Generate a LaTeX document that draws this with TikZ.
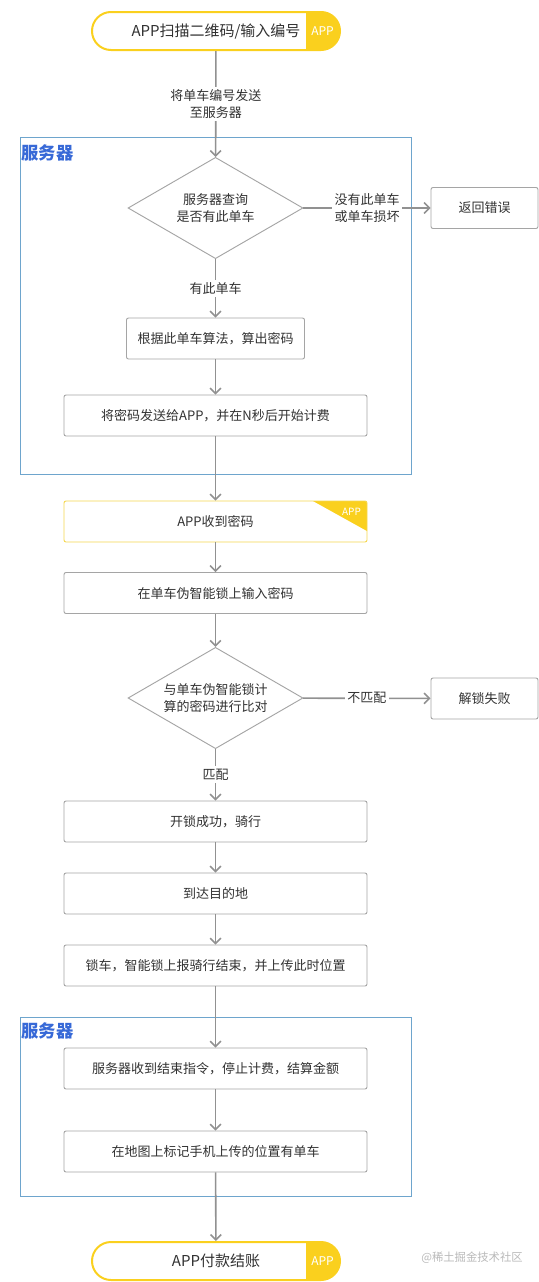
\documentclass[tikz,border=0pt]{standalone}
\usepackage{fontspec}
\setmainfont{Noto Sans CJK SC}
\usetikzlibrary{arrows.meta,shapes.geometric}
\definecolor{appyellow}{RGB}{250,208,30}
\definecolor{lightyellow}{RGB}{245,215,80}
\definecolor{linegray}{RGB}{145,145,145}
\definecolor{boxgray}{RGB}{165,165,165}
\definecolor{frameblue}{RGB}{110,165,205}
\definecolor{labelblue}{RGB}{55,105,215}
\definecolor{textgray}{RGB}{50,50,50}
\definecolor{markgray}{RGB}{185,185,185}

\begin{document}
\begin{tikzpicture}[x=0.75pt,y=-0.75pt,
	font=\fontsize{9.75}{13}\selectfont, text=textgray,
	stepbox/.style={draw=boxgray,line width=0.7pt,rounded corners=1.5pt,minimum height=30.75pt,inner sep=0pt,fill=white},
	widebox/.style={stepbox,minimum width=227.25pt},
	check/.style={diamond,aspect=1.75,draw=boxgray,line width=0.7pt,minimum width=131.25pt,minimum height=76pt,inner sep=0pt,align=center,fill=white},
	pill/.style={draw=appyellow,line width=1.5pt,rounded corners=14.25pt,minimum width=186pt,minimum height=28.5pt,inner sep=0pt,fill=white,
		font=\fontsize{11.25}{13}\selectfont,
		path picture={\fill[appyellow,sharp corners] ([xshift=-25.5pt]path picture bounding box.north east) rectangle (path picture bounding box.south east);}},
	apptag/.style={text=white,font=\fontsize{9}{10}\selectfont,inner sep=0pt},
	flow/.style={draw=linegray,line width=1.2pt,-{Straight Barb[length=4pt,width=8pt]}},
	tag/.style={fill=white,align=center,inner sep=2pt},
	frame/.style={draw=frameblue,line width=0.75pt},
	group/.style={font=\fontsize{13}{15}\selectfont\bfseries,text=labelblue,anchor=west,inner sep=1pt}
	]
	\useasboundingbox (0,0) rectangle (539,1282);
	
	%%%%% START %%%%%
	
	% server frames
	\draw[frame] (20,137) rectangle (411,474);
	\node[group] (server1) at (20,153) {服务器};
	\draw[frame] (20,1017) rectangle (411,1196);
	\node[group] (server2) at (20,1031) {服务器};
	
	% nodes
	\node[pill] (start) at (216,31) {APP扫描二维码/输入编号};
	\node[apptag] (startapp) at (322.5,31) {APP};
	
	\node[check] (query) at (215.5,208) {服务器查询\\是否有此单车};
	\node[stepbox,minimum width=80.25pt] (error) at (484.5,208) {返回错误};
	\node[stepbox,minimum width=133.5pt] (algo) at (215.5,338.5) {根据此单车算法，算出密码};
	\node[widebox] (send) at (215.5,415.5) {将密码发送给APP，并在N秒后开始计费};
	
	\node[widebox,draw=lightyellow,
		path picture={\fill[appyellow,sharp corners] ([xshift=-40.5pt]path picture bounding box.north east) -- (path picture bounding box.north east) -- ([yshift=-22.5pt]path picture bounding box.north east) -- cycle;}]
		(receive) at (215.5,521.5) {APP收到密码};
	\node[apptag,font=\fontsize{7.5}{9}\selectfont] (receiveapp) at (351.5,511.5) {APP};
	
	\node[widebox] (input) at (215.5,593) {在单车伪智能锁上输入密码};
	\node[check] (compare) at (215.5,698) {与单车伪智能锁计\\算的密码进行比对};
	\node[stepbox,minimum width=80.25pt] (fail) at (484.5,698.5) {解锁失败};
	
	\node[widebox] (unlock) at (215.5,821.5) {开锁成功，骑行};
	\node[widebox] (arrive) at (215.5,893.5) {到达目的地};
	\node[widebox] (lock) at (215.5,965.5) {锁车，智能锁上报骑行结束，并上传此时位置};
	\node[widebox] (settle) at (215.5,1068.5) {服务器收到结束指令，停止计费，结算金额};
	\node[widebox] (mark) at (215.5,1151.5) {在地图上标记手机上传的位置有单车};
	
	\node[pill] (pay) at (216,1261) {APP付款结账};
	\node[apptag] (payapp) at (322.5,1261) {APP};
	
	% arrows
	\draw[flow] (start) -- node[tag] {将单车编号发送\\至服务器} (query);
	\draw[flow] (query) -- node[tag] {没有此单车\\或单车损坏} (error);
	\draw[flow] (query) -- node[tag] {有此单车} (algo);
	\draw[flow] (algo) -- (send);
	\draw[flow] (send) -- (receive);
	\draw[flow] (receive) -- (input);
	\draw[flow] (input) -- (compare);
	\draw[flow] (compare) -- node[tag] {不匹配} (fail);
	\draw[flow] (compare) -- node[tag] {匹配} (unlock);
	\draw[flow] (unlock) -- (arrive);
	\draw[flow] (arrive) -- (lock);
	\draw[flow] (lock) -- (settle);
	\draw[flow] (settle) -- (mark);
	\draw[flow] (mark) -- (pay);
	
	% watermark
	\node[text=markgray,font=\fontsize{8.5}{10}\selectfont] (juejin) at (472,1258) {@稀土掘金技术社区};
	
	%%%%% END %%%%%
\end{tikzpicture}
\end{document}
